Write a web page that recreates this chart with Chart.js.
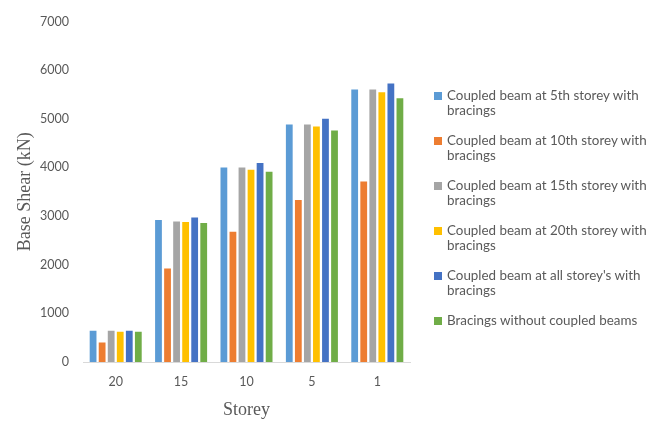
<!DOCTYPE html>
<html>
<head>
<meta charset="utf-8">
<script src="https://cdn.jsdelivr.net/npm/chart.js@4/dist/chart.umd.min.js"></script>
<style>
  html, body { margin: 0; padding: 0; background: #fff; }
  #wrap { position: relative; width: 664px; height: 421px; }
  #legend { position: absolute; left: 434px; top: 88px; width: 222px;
            font-family: Lato, "Open Sans", sans-serif; font-size: 13.4px; color: #595959; }
  .item { position: relative; padding-left: 13px; line-height: 15px; height: 45px; }
  .sw { position: absolute; left: 0; top: 4px; width: 8px; height: 8px; }
</style>
</head>
<body>
<div id="wrap">
  <canvas id="c" width="664" height="421"></canvas>
  <div id="legend"></div>
</div>
<script>
const storeys = ["20", "15", "10", "5", "1"];
const seriesNames = [
  "Coupled beam at 5th storey with bracings",
  "Coupled beam at 10th storey with bracings",
  "Coupled beam at 15th storey with bracings",
  "Coupled beam at 20th storey with bracings",
  "Coupled beam at all storey's with bracings",
  "Bracings without coupled beams"
];
const beam5th   = [645, 2920, 4000, 4880, 5600];
const beam10th  = [400, 1920, 2680, 3330, 3710];
const beam15th  = [640, 2890, 4000, 4880, 5600];
const beam20th  = [620, 2880, 3950, 4840, 5545];
const beamAll   = [645, 2970, 4090, 5000, 5725];
const noBeams   = [620, 2860, 3910, 4760, 5420];
const yTicks    = [0, 1000, 2000, 3000, 4000, 5000, 6000, 7000];

const colors = ["#5B9BD5", "#ED7D31", "#A5A5A5", "#FFC000", "#4472C4", "#70AD47"];
const values = [beam5th, beam10th, beam15th, beam20th, beamAll, noBeams];

const datasets = values.map((v, i) => ({
  label: seriesNames[i],
  data: v,
  backgroundColor: colors[i],
  borderWidth: 0,
  categoryPercentage: 0.83,
  barPercentage: 0.75
}));

const tickFont = { family: "Lato, 'Open Sans', sans-serif", size: 12.5 };
const titleFamily = "'Liberation Serif', 'DejaVu Serif', serif";

new Chart(document.getElementById("c"), {
  type: "bar",
  data: { labels: storeys, datasets },
  options: {
    responsive: false,
    animation: false,
    layout: { padding: { left: 0, right: 254, top: 14, bottom: 0 } },
    plugins: { legend: { display: false }, tooltip: { enabled: false } },
    scales: {
      x: {
        grid: { display: false, drawTicks: false },
        border: { display: true, color: "#D9D9D9", width: 1 },
        ticks: { color: "#595959", font: tickFont, padding: 12 },
        title: { display: true, text: "Storey", color: "#595959",
                 font: { family: titleFamily, size: 18 }, padding: { top: 0, bottom: 0 } },
        afterFit: s => { s.height = 59; }
      },
      y: {
        min: 0, max: 7000,
        afterBuildTicks: s => { s.ticks = yTicks.map(v => ({ value: v })); },
        grid: { display: false, drawTicks: false },
        border: { display: false },
        ticks: { color: "#595959", font: tickFont, padding: 14, callback: v => String(v) },
        title: { display: true, text: "Base Shear (kN)", color: "#595959",
                 font: { family: titleFamily, size: 18 }, padding: { top: 14, bottom: 0 } },
        afterFit: s => { s.width = 83; }
      }
    }
  }
});

// legend built from the same series names and colours
const legend = document.getElementById("legend");
seriesNames.forEach((name, i) => {
  const item = document.createElement("div");
  item.className = "item";
  const sw = document.createElement("span");
  sw.className = "sw";
  sw.style.background = colors[i];
  item.appendChild(sw);
  const txt = document.createElement("span");
  txt.textContent = name;
  item.appendChild(txt);
  legend.appendChild(item);
});
</script>
</body>
</html>
